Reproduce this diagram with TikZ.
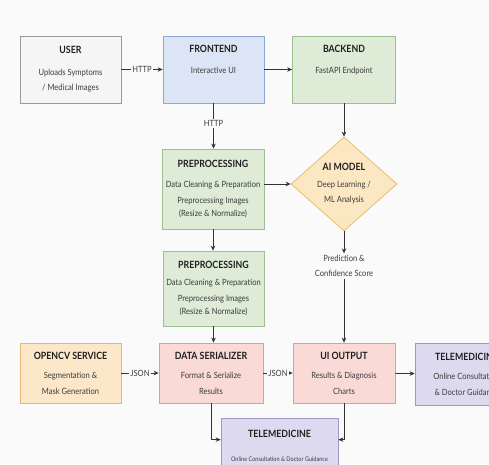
\documentclass[tikz,border=0pt]{standalone}
\usepackage{fontspec}
\setmainfont[FakeStretch=0.88]{Lato}
\usetikzlibrary{shapes.geometric,arrows.meta}
\definecolor{bg}{HTML}{FAFAFA}
\definecolor{ttl}{HTML}{1E1E1E}
\definecolor{txt}{HTML}{3C3C3C}
\definecolor{lnc}{HTML}{333333}
\definecolor{greyf}{HTML}{F5F5F5}\definecolor{greyd}{HTML}{9A9A9A}
\definecolor{bluef}{HTML}{DCE5F5}\definecolor{blued}{HTML}{8DA6D3}
\definecolor{greenf}{HTML}{DDEBD7}\definecolor{greend}{HTML}{9DBF92}
\definecolor{yellowf}{HTML}{FBE7C1}\definecolor{yellowd}{HTML}{E5BD6A}
\definecolor{orangef}{HTML}{FCE7C9}\definecolor{oranged}{HTML}{E3B877}
\definecolor{redf}{HTML}{FADAD6}\definecolor{redd}{HTML}{DE9E97}
\definecolor{purpf}{HTML}{DDDAF0}\definecolor{purpd}{HTML}{9C97C6}
\newcommand\boxtitle[1]{{\fontsize{10}{11.5}\selectfont\bfseries\color{ttl}#1}}
\tikzset{
  box/.style={draw, line width=0.75pt, minimum width=101, minimum height=67, align=center,
    inner sep=2pt, font=\fontsize{8.6}{15.5}\selectfont, text=txt},
  arr/.style={draw=lnc, line width=0.75pt, -{Stealth[length=5pt,width=4.5pt]}},
  lbl/.style={fill=bg, inner sep=1.5pt, font=\fontsize{8.6}{12}\selectfont, text=txt, align=center}
}
\begin{document}
\begin{tikzpicture}[x=1pt,y=-1pt]
\useasboundingbox (0,0) rectangle (489,464);
\fill[bg] (0,0) rectangle (489,464);
\clip (0,0) rectangle (489,464);
\node[box, fill=greyf, draw=greyd] (user) at (70.5,69.5) {\boxtitle{USER}\\[6pt] Uploads Symptoms\\ / Medical Images};
\node[box, fill=bluef, draw=blued] (front) at (213.5,69.5) {\boxtitle{FRONTEND}\\[6pt] Interactive UI\\ \strut};
\node[box, fill=greenf, draw=greend, minimum width=103] (back) at (344,69.5) {\boxtitle{BACKEND}\\[6pt] FastAPI Endpoint\\ \strut};
\node[box, fill=greenf, draw=greend, minimum width=102, minimum height=80, font=\fontsize{8.6}{16}\selectfont] (prep1) at (213,189) {\boxtitle{PREPROCESSING}\\[4pt] Data Cleaning \& Preparation\\ Preprocessing Images\\[-3pt] (Resize \& Normalize)};
\node[draw=yellowd, fill=yellowf, line width=0.75pt, diamond, aspect=1.13, minimum width=106, minimum height=94, inner sep=0pt, align=center, font=\fontsize{8.6}{15.5}\selectfont, text=txt] (ai) at (344,184) {\boxtitle{AI MODEL}\\[1pt] Deep Learning /\\ ML Analysis};
\node[box, fill=greenf, draw=greend, minimum width=101, minimum height=75, font=\fontsize{8.6}{15.5}\selectfont] (prep2) at (213.5,288.5) {\boxtitle{PREPROCESSING}\\[2pt] Data Cleaning \& Preparation\\ Preprocessing Images\\[-2pt] (Resize \& Normalize)};
\node[lbl, font=\fontsize{8.6}{15.5}\selectfont] (pred) at (344,266) {Prediction \&\\ Confidence Score};
\node[box, fill=orangef, draw=oranged, minimum height=60] (cv) at (70.5,373) {\boxtitle{OPENCV SERVICE}\\[4pt] Segmentation \&\\ Mask Generation};
\node[box, fill=redf, draw=redd, minimum width=104, minimum height=60] (ds) at (211,373) {\boxtitle{DATA SERIALIZER}\\[4pt] Format \& Serialize\\ Results};
\node[box, fill=redf, draw=redd, minimum width=102, minimum height=60] (ui) at (344,373) {\boxtitle{UI OUTPUT}\\[4pt] Results \& Diagnosis\\ Charts};
\node[box, fill=purpf, draw=purpd, minimum width=103, minimum height=62] (teleR) at (466.5,374) {\boxtitle{TELEMEDICINE}\\[4pt] Online Consultation\\ \& Doctor Guidance};
\node[box, fill=purpf, draw=purpd, minimum width=117, minimum height=56, text depth=0pt] (teleB) at (279.5,446) {\boxtitle{TELEMEDICINE}\\[8pt] {\fontsize{6.3}{8}\selectfont Online Consultation \& Doctor Guidance}};
\coordinate (tbL) at ([yshift=-22pt]teleB.north west);
\coordinate (tbR) at ([yshift=-22pt]teleB.north east);
\draw[arr] (user) -- node[lbl]{HTTP} (front);
\draw[arr] (front) -- (back);
\draw[arr] (front.south) -- node[lbl, pos=0.45]{HTTP} (front.south |- prep1.north);
\draw[arr] (back.south) -- (ai.north);
\draw[arr] (prep1.east |- ai.west) -- (ai.west);
\draw[arr] (prep1.south) -- (prep1.south |- prep2.north);
\draw[arr] (ai.south) -- (pred.north);
\draw[arr] (pred.south) -- (ui.north);
\draw[arr] (prep2.south) -- (prep2.south |- ds.north);
\draw[arr] (cv) -- node[lbl]{JSON} (ds);
\draw[arr] (ds) -- node[lbl]{JSON} (ui);
\draw[arr] (ui) -- (teleR);
\draw[arr] (ds.south) |- (tbL);
\draw[arr] (ui.south) |- (tbR);
\end{tikzpicture}
\end{document}
